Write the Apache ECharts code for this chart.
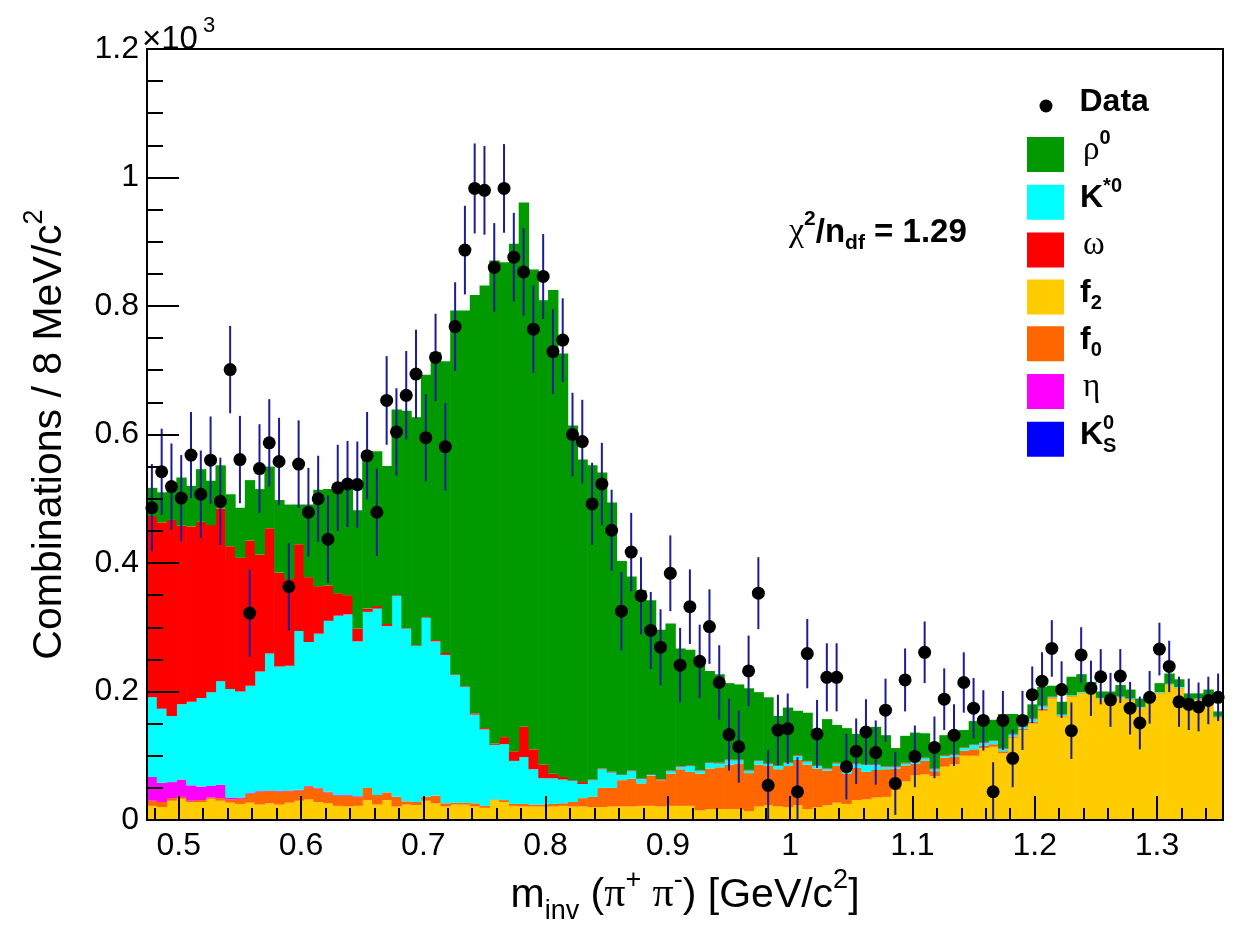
<!DOCTYPE html>
<html>
<head>
<meta charset="utf-8">
<script src="https://cdn.jsdelivr.net/npm/echarts@6.0.0/dist/echarts.min.js"></script>
<style>
  html, body { margin: 0; padding: 0; background: #ffffff; }
  #chart { width: 1239px; height: 932px; }
</style>
</head>
<body>
<div id="chart"></div>
<script>
// Invariant-mass spectrum of pi+ pi- pairs, 8 MeV/c^2 bins, counts in units of 10^3.
const binLow = 0.474;
const binWidth = 0.008;
const nBins = 110;

// Measured combinations per bin
const dataValues = [
  0.486, 0.542, 0.519, 0.501, 0.568, 0.507, 0.560, 0.496, 0.701, 0.561, 0.322, 0.547, 0.587, 0.558, 0.363, 0.554, 0.479, 0.500, 0.437,
  0.517, 0.523, 0.522, 0.567, 0.479, 0.653, 0.604, 0.661, 0.694, 0.595, 0.720, 0.581, 0.768, 0.887, 0.983, 0.980, 0.860, 0.983,
  0.876, 0.853, 0.764, 0.846, 0.729, 0.747, 0.600, 0.589, 0.492, 0.523, 0.451, 0.325, 0.417, 0.349, 0.295, 0.269, 0.384, 0.241, 0.332,
  0.247, 0.301, 0.214, 0.133, 0.114, 0.232, 0.353, 0.054, 0.140, 0.142, 0.044, 0.259, 0.134, 0.222, 0.222, 0.083, 0.107, 0.137,
  0.105, 0.171, 0.057, 0.218, 0.099, 0.261, 0.113, 0.188, 0.132, 0.214, 0.174, 0.155, 0.044, 0.155, 0.096, 0.155, 0.195, 0.216,
  0.267, 0.203, 0.139, 0.257, 0.205, 0.223, 0.187, 0.224, 0.174, 0.151, 0.191, 0.266, 0.239, 0.184, 0.180, 0.176, 0.186, 0.191
];
const dataErrors = [
  0.068, 0.067, 0.067, 0.067, 0.067, 0.068, 0.068, 0.068, 0.068, 0.068, 0.068, 0.069, 0.068, 0.068, 0.068, 0.068, 0.069, 0.067, 0.068,
  0.067, 0.067, 0.067, 0.068, 0.068, 0.069, 0.068, 0.069, 0.069, 0.068, 0.068, 0.068, 0.069, 0.069, 0.070, 0.069, 0.069, 0.069,
  0.069, 0.068, 0.068, 0.066, 0.066, 0.065, 0.065, 0.065, 0.064, 0.064, 0.063, 0.061, 0.061, 0.060, 0.060, 0.059, 0.059, 0.058, 0.058,
  0.057, 0.058, 0.058, 0.056, 0.056, 0.055, 0.056, 0.055, 0.055, 0.055, 0.054, 0.054, 0.053, 0.053, 0.053, 0.051, 0.051, 0.051,
  0.050, 0.049, 0.049, 0.049, 0.048, 0.048, 0.048, 0.048, 0.048, 0.047, 0.047, 0.047, 0.046, 0.046, 0.045, 0.046, 0.044, 0.045,
  0.044, 0.044, 0.044, 0.043, 0.043, 0.043, 0.042, 0.042, 0.041, 0.041, 0.041, 0.041, 0.040, 0.039, 0.040, 0.038, 0.037, 0.037
];

// Fitted contributions per bin (stacked bottom to top in this order)
const f2Values = [
  0.022, 0.020, 0.030, 0.033, 0.028, 0.028, 0.033, 0.030, 0.027, 0.025, 0.027, 0.024, 0.026, 0.024, 0.027, 0.030, 0.032, 0.028, 0.026,
  0.022, 0.021, 0.022, 0.031, 0.024, 0.031, 0.021, 0.024, 0.023, 0.030, 0.026, 0.021, 0.024, 0.024, 0.021, 0.019, 0.031, 0.028, 0.022,
  0.021, 0.021, 0.021, 0.021, 0.022, 0.021, 0.021, 0.020, 0.020, 0.021, 0.021, 0.021, 0.022, 0.022, 0.021, 0.022, 0.022, 0.022,
  0.015, 0.017, 0.017, 0.017, 0.017, 0.014, 0.021, 0.023, 0.021, 0.020, 0.023, 0.017, 0.020, 0.023, 0.027, 0.025, 0.031, 0.032,
  0.035, 0.036, 0.047, 0.060, 0.070, 0.071, 0.068, 0.083, 0.087, 0.100, 0.100, 0.112, 0.114, 0.104, 0.128, 0.140, 0.150, 0.170, 0.189,
  0.161, 0.192, 0.197, 0.198, 0.188, 0.187, 0.190, 0.187, 0.174, 0.186, 0.197, 0.210, 0.205, 0.184, 0.187, 0.189, 0.159
];
const f0Values = [
  0.008, 0.008, 0.004, 0.003, 0.002, 0.003, 0.002, 0.004, 0.005, 0.008, 0.014, 0.020, 0.019, 0.020, 0.018, 0.016, 0.020, 0.021, 0.017,
  0.016, 0.017, 0.014, 0.019, 0.015, 0.012, 0.015, 0.005, 0.005, 0.006, 0.012, 0.005, 0.003, 0.003, 0.005, 0.003, 0.001, 0.003, 0.003,
  0.004, 0.003, 0.003, 0.004, 0.004, 0.007, 0.013, 0.016, 0.030, 0.029, 0.041, 0.043, 0.035, 0.047, 0.041, 0.050, 0.057, 0.053,
  0.057, 0.063, 0.065, 0.069, 0.071, 0.059, 0.065, 0.061, 0.058, 0.064, 0.071, 0.069, 0.060, 0.054, 0.057, 0.047, 0.050, 0.043,
  0.043, 0.043, 0.033, 0.025, 0.018, 0.021, 0.008, 0.014, 0.011, 0.008, 0.010, 0.004, 0.004, 0.003, 0.002, 0.002, 0.003, 0.003, 0.001,
  0.001, 0.001, 0.001, 0.001, 0.001, 0.001, 0.001, 0.001, 0.001, 0.001, 0.001, 0.001, 0.001, 0.001, 0.001, 0.001, 0.001
];
const etaValues = [
  0.037, 0.030, 0.025, 0.027, 0.024, 0.021, 0.018, 0.021, 0.003, 0.002, 0.001, 0.001, 0.001, 0.001, 0.001, 0.001, 0.001, 0.001, 0.001,
  0.001, 0.001, 0.001, 0, 0, 0, 0, 0, 0, 0, 0, 0, 0, 0, 0, 0, 0, 0, 0,
  0, 0, 0, 0, 0, 0, 0, 0, 0, 0, 0, 0, 0, 0, 0, 0, 0, 0,
  0, 0, 0, 0, 0, 0, 0, 0, 0, 0, 0, 0, 0, 0, 0, 0, 0, 0,
  0, 0, 0, 0, 0, 0, 0, 0, 0, 0, 0, 0, 0, 0, 0, 0, 0, 0, 0,
  0, 0, 0, 0, 0, 0, 0, 0, 0, 0, 0, 0, 0, 0, 0, 0, 0
];
const kstarValues = [
  0.124, 0.115, 0.103, 0.117, 0.130, 0.138, 0.146, 0.161, 0.169, 0.165, 0.167, 0.186, 0.213, 0.194, 0.194, 0.247, 0.224, 0.240, 0.266,
  0.279, 0.281, 0.241, 0.274, 0.290, 0.259, 0.313, 0.269, 0.243, 0.279, 0.240, 0.231, 0.199, 0.180, 0.138, 0.119, 0.085, 0.087, 0.067,
  0.073, 0.055, 0.041, 0.040, 0.037, 0.033, 0.022, 0.026, 0.029, 0.024, 0.008, 0.012, 0.007, 0.001, 0.001, 0.004, 0.004, 0.009,
  0.005, 0.009, 0.006, 0.007, 0.005, 0.004, 0.006, 0.003, 0.005, 0.005, 0.006, 0.005, 0.004, 0.003, 0.004, 0.005, 0.006, 0.011,
  0.008, 0.004, 0.003, 0.003, 0.003, 0.004, 0.003, 0.003, 0.003, 0.004, 0.007, 0.004, 0.005, 0.004, 0.003, 0.003, 0.004, 0.004, 0.001,
  0.002, 0.001, 0.001, 0.001, 0.001, 0.001, 0.001, 0.001, 0.001, 0.001, 0.001, 0.001, 0.001, 0.001, 0.001, 0.001, 0.001
];
const omegaValues = [
  0.282, 0.290, 0.305, 0.278, 0.273, 0.274, 0.260, 0.269, 0.222, 0.208, 0.226, 0.182, 0.195, 0.146, 0.135, 0.135, 0.101, 0.074, 0.055,
  0.035, 0.030, 0.020, 0.005, 0.004, 0.003, 0.001, 0.001, 0.001, 0.001, 0.002, 0.003, 0.001, 0.001, 0.002, 0.002, 0.002, 0.011, 0.015,
  0.047, 0.031, 0.021, 0.007, 0.004, 0.001, 0.003, 0.001, 0.001, 0.001, 0.001, 0.001, 0.001, 0.001, 0.001, 0.001, 0.001, 0.001,
  0.001, 0.001, 0.001, 0.001, 0.001, 0.001, 0.001, 0.001, 0.001, 0.001, 0.001, 0.001, 0.001, 0.001, 0.001, 0.001, 0.001, 0.001,
  0.001, 0.001, 0.001, 0.001, 0.001, 0.001, 0.001, 0.001, 0.001, 0.001, 0.001, 0.001, 0.001, 0.001, 0.001, 0.001, 0.001, 0.001, 0.001,
  0, 0, 0, 0, 0, 0, 0, 0, 0, 0, 0, 0, 0, 0, 0, 0, 0
];
const rhoValues = [
  0.044, 0.047, 0.058, 0.075, 0.063, 0.082, 0.069, 0.067, 0.081, 0.078, 0.094, 0.102, 0.096, 0.113, 0.116, 0.062, 0.113, 0.150, 0.150,
  0.167, 0.172, 0.184, 0.245, 0.241, 0.246, 0.289, 0.338, 0.355, 0.377, 0.448, 0.454, 0.566, 0.585, 0.651, 0.689, 0.752, 0.739, 0.790,
  0.816, 0.747, 0.723, 0.753, 0.659, 0.552, 0.502, 0.489, 0.461, 0.419, 0.332, 0.302, 0.293, 0.271, 0.232, 0.229, 0.183, 0.180,
  0.165, 0.142, 0.138, 0.119, 0.117, 0.127, 0.106, 0.103, 0.077, 0.085, 0.069, 0.075, 0.052, 0.076, 0.059, 0.065, 0.046, 0.053,
  0.058, 0.048, 0.028, 0.042, 0.044, 0.038, 0.038, 0.031, 0.035, 0.027, 0.036, 0.039, 0.032, 0.053, 0.031, 0.017, 0.022, 0.029, 0.017,
  0.020, 0.029, 0.028, 0.015, 0.010, 0.011, 0.018, 0.014, 0.013, 0.009, 0.014, 0.016, 0.012, 0.011, 0.008, 0.012, 0.008
];
const ks0Values = [
  0, 0, 0, 0, 0, 0, 0, 0, 0, 0, 0, 0, 0, 0, 0, 0, 0, 0, 0,
  0, 0, 0, 0, 0, 0, 0, 0, 0, 0, 0, 0, 0, 0, 0, 0, 0, 0, 0,
  0, 0, 0, 0, 0, 0, 0, 0, 0, 0, 0, 0, 0, 0, 0, 0, 0, 0,
  0, 0, 0, 0, 0, 0, 0, 0, 0, 0, 0, 0, 0, 0, 0, 0, 0, 0,
  0, 0, 0, 0, 0, 0, 0, 0, 0, 0, 0, 0, 0, 0, 0, 0, 0, 0, 0,
  0, 0, 0, 0, 0, 0, 0, 0, 0, 0, 0, 0, 0, 0, 0, 0, 0
];

// Axis tick labels
const xTickLabels = [0.5, 0.6, 0.7, 0.8, 0.9, 1.0, 1.1, 1.2, 1.3];
const chi2Text = '1.29';

const SANS = 'Liberation Sans, Arial, Helvetica, sans-serif';
const SERIF = 'Liberation Serif, DejaVu Serif, serif';

// Stack order, bottom to top
const components = [
  { key: 'f2',     values: f2Values,    color: '#ffcc00' },
  { key: 'f0',     values: f0Values,    color: '#ff6600' },
  { key: 'eta',    values: etaValues,   color: '#ff00ff' },
  { key: 'Kstar0', values: kstarValues, color: '#00ffff' },
  { key: 'omega',  values: omegaValues, color: '#ff0000' },
  { key: 'rho0',   values: rhoValues,   color: '#009900' },
  { key: 'KS0',    values: ks0Values,   color: '#0000ff' }
];
const legendOrder = ['rho0', 'Kstar0', 'omega', 'f2', 'f0', 'eta', 'KS0'];

const binCenters = [];
for (let i = 0; i < nBins; i++) binCenters.push(+(binLow + binWidth * (i + 0.5)).toFixed(4));
const axisMin = binLow;
const axisMax = +(binLow + binWidth * nBins).toFixed(4);

// minor ticks every 0.02
const xMinorTicks = [];
for (let k = 48; k <= 134; k += 2) if (k % 10 !== 0) xMinorTicks.push(k / 100);

const legendText = {
  Data: '{b|Data}',
  rho0: '{g|ρ}{sup|0}',
  Kstar0: '{b|K}{sup|*0}',
  omega: '{g|ω}',
  f2: '{b|f}{sub|2}',
  f0: '{b|f}{sub|0}',
  eta: '{g|η}',
  KS0: '{b|K}{supz|0}{sub|S}'
};
const legendRich = {
  b:    { fontFamily: SANS, fontWeight: 'bold', fontSize: 32, lineHeight: 34, padding: [5, 0, 5, 0], verticalAlign: 'bottom', color: '#000' },
  g:    { fontFamily: SERIF, fontSize: 33, lineHeight: 34, padding: [5, 0, 5, 3], verticalAlign: 'bottom', color: '#000' },
  sup:  { fontFamily: SANS, fontWeight: 'bold', fontSize: 20, lineHeight: 14, padding: [0, 0, 23, 0], verticalAlign: 'bottom', color: '#000' },
  supz: { fontFamily: SANS, fontWeight: 'bold', fontSize: 20, lineHeight: 14, padding: [0, 0, 23, 0], verticalAlign: 'bottom', color: '#000', width: 0.01 },
  sub:  { fontFamily: SANS, fontWeight: 'bold', fontSize: 20, lineHeight: 14, verticalAlign: 'bottom', color: '#000' }
};

function stackedSeries() {
  const base = new Array(nBins).fill(0);
  return components.map(function (comp) {
    const items = [];
    for (let i = 0; i < nBins; i++) {
      const lo = base[i];
      const hi = lo + comp.values[i];
      items.push([binCenters[i], lo, hi]);
      base[i] = hi;
    }
    return {
      name: comp.key,
      type: 'custom',
      z: 2,
      clip: true,
      itemStyle: { color: comp.color },
      encode: { x: 0, y: [1, 2] },
      data: items,
      renderItem: function (params, api) {
        const c = api.value(0), lo = api.value(1), hi = api.value(2);
        if (!(hi > lo)) return null;
        const a = api.coord([c - binWidth / 2, hi]);
        const b = api.coord([c + binWidth / 2, lo]);
        return {
          type: 'rect',
          shape: { x: a[0], y: a[1], width: b[0] - a[0] + 0.6, height: b[1] - a[1] },
          style: { fill: comp.color }
        };
      }
    };
  });
}

const errorItems = binCenters.map((c, i) => [c, dataValues[i], dataErrors[i]]);
const pointItems = binCenters.map((c, i) => [c, dataValues[i]]);

const chart = echarts.init(document.getElementById('chart'), null, { renderer: 'canvas' });

const option = {
  animation: false,
  backgroundColor: '#ffffff',
  grid: {
    left: 147, right: 16, top: 49, bottom: 112,
    show: true, z: 10, borderColor: '#000', borderWidth: 2, backgroundColor: 'transparent'
  },
  legend: [
    {
      data: [{ name: 'Data', icon: 'circle' }],
      left: 1039.5, top: 81, padding: 0,
      itemWidth: 13, itemHeight: 13,
      selectedMode: false,
      formatter: name => legendText[name],
      textStyle: { padding: [0, 0, 0, 22], rich: legendRich }
    },
    {
      data: legendOrder.map(n => ({ name: n, icon: 'rect' })),
      orient: 'vertical',
      left: 1027, top: 128.5, padding: 0,
      itemWidth: 37, itemHeight: 35, itemGap: 4.3,
      selectedMode: false,
      formatter: name => legendText[name],
      textStyle: { padding: [0, 0, 0, 11], rich: legendRich }
    }
  ],
  xAxis: [
    {
      type: 'value', min: axisMin, max: axisMax, position: 'bottom', z: 10,
      axisLine: { onZero: false, lineStyle: { color: '#000', width: 2 } },
      axisTick: { inside: true, length: 24, customValues: xTickLabels, lineStyle: { color: '#000', width: 2 } },
      axisLabel: {
        customValues: xTickLabels, color: '#000', fontFamily: SANS, fontSize: 32, margin: 10,
        formatter: v => String(+(+v).toFixed(1))
      },
      splitLine: { show: false },
      name: '{t|m}{sub|inv}{t| (}{g|π}{sup|+}{t| }{g|π}{sup|-}{t|) [GeV/c}{sup|2}{t|]}',
      nameLocation: 'middle', nameGap: 54,
      nameTextStyle: {
        rich: {
          t:   { fontFamily: SANS, fontSize: 41, lineHeight: 46, padding: [0, 0, 9, 0], verticalAlign: 'bottom', color: '#000' },
          g:   { fontFamily: SERIF, fontSize: 42, lineHeight: 46, padding: [0, 0, 9, 0], verticalAlign: 'bottom', color: '#000' },
          sup: { fontFamily: SANS, fontSize: 27, lineHeight: 20, padding: [0, 0, 31, 0], verticalAlign: 'bottom', color: '#000' },
          sub: { fontFamily: SANS, fontSize: 27, lineHeight: 20, verticalAlign: 'bottom', color: '#000' }
        }
      }
    },
    {
      type: 'value', min: axisMin, max: axisMax, position: 'bottom', z: 10,
      axisLine: { show: false, onZero: false },
      axisTick: { inside: true, length: 12, customValues: xMinorTicks, lineStyle: { color: '#000', width: 2 } },
      axisLabel: { show: false },
      splitLine: { show: false }
    }
  ],
  yAxis: {
    type: 'value', min: 0, max: 1.2, interval: 0.2, z: 10,
    axisLine: { lineStyle: { color: '#000', width: 2 } },
    axisTick: { inside: true, length: 32, lineStyle: { color: '#000', width: 2 } },
    minorTick: { show: true, splitNumber: 4, length: 16, lineStyle: { color: '#000', width: 2 } },
    axisLabel: { color: '#000', fontFamily: SANS, fontSize: 32, margin: 8 },
    splitLine: { show: false },
    name: '{t|Combinations / 8 MeV/c}{sup|2}',
    nameLocation: 'middle', nameGap: 77,
    nameTextStyle: {
      rich: {
        t:   { fontFamily: SANS, fontSize: 41, lineHeight: 46, verticalAlign: 'bottom', color: '#000' },
        sup: { fontFamily: SANS, fontSize: 27, lineHeight: 20, padding: [0, 0, 22, 0], verticalAlign: 'bottom', color: '#000' }
      }
    }
  },
  graphic: [
    {
      type: 'text', left: 142, top: 15, z: 20,
      style: {
        text: '{t|×10}{sup|3}',
        rich: {
          t:   { fontFamily: SANS, fontSize: 33, lineHeight: 36, verticalAlign: 'bottom', fill: '#000' },
          sup: { fontFamily: SANS, fontSize: 22, lineHeight: 16, padding: [0, 0, 19, 5], verticalAlign: 'bottom', fill: '#000' }
        }
      }
    },
    {
      type: 'text', left: 789, top: 209, z: 20,
      style: {
        text: '{g|χ}{sup|2}{b|/n}{sub|df}{b| = ' + chi2Text + '}',
        rich: {
          b:   { fontFamily: SANS, fontWeight: 'bold', fontSize: 33, lineHeight: 36, padding: [0, 0, 5, 0], verticalAlign: 'bottom', fill: '#000' },
          g:   { fontFamily: SERIF, fontSize: 34, lineHeight: 36, padding: [0, 0, 5, 0], verticalAlign: 'bottom', fill: '#000' },
          sup: { fontFamily: SANS, fontWeight: 'bold', fontSize: 21, lineHeight: 15, padding: [0, 0, 24, 0], verticalAlign: 'bottom', fill: '#000' },
          sub: { fontFamily: SANS, fontWeight: 'bold', fontSize: 21, lineHeight: 15, verticalAlign: 'bottom', fill: '#000' }
        }
      }
    }
  ],
  series: stackedSeries().concat([
    {
      name: 'Data errors',
      type: 'custom',
      z: 3,
      clip: true,
      encode: { x: 0, y: 1 },
      data: errorItems,
      renderItem: function (params, api) {
        const x = api.value(0), v = api.value(1), e = api.value(2);
        const top = api.coord([x, v + e]);
        const bot = api.coord([x, v - e]);
        return {
          type: 'line',
          shape: { x1: top[0], y1: top[1], x2: bot[0], y2: bot[1] },
          style: { stroke: '#1c1c96', lineWidth: 2 }
        };
      }
    },
    {
      name: 'Data',
      type: 'scatter',
      z: 4,
      symbol: 'circle',
      symbolSize: 13,
      itemStyle: { color: '#000000', opacity: 1 },
      data: pointItems
    }
  ])
};

chart.setOption(option);
</script>
</body>
</html>
